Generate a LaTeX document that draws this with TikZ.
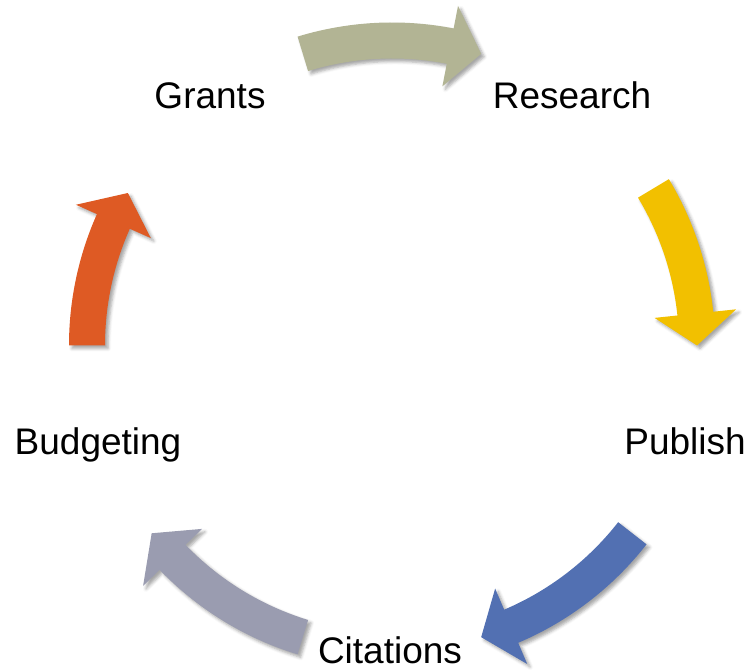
\documentclass[tikz,border=0pt]{standalone}
\usepackage{fontspec}
\setmainfont{Liberation Sans}
\usetikzlibrary{calc,shadows.blur}
\definecolor{grantgray}{HTML}{B2B494}
\definecolor{researchgold}{HTML}{F2C000}
\definecolor{publishblue}{HTML}{5270B2}
\definecolor{citelav}{HTML}{9A9CB0}
\definecolor{budgetorange}{HTML}{DE5A24}
% curved block arrow round (c): start angle, tip angle, colour
\newcommand{\cyclearrow}[3]{%
    \fill[#3, arrowshadow]
        (#1:287) arc[start angle=#1, end angle=#2+6, radius=287]
        -- (#2+6:264) -- (#2:305) -- (#2+6:346) -- (#2+6:323)
        arc[start angle=#2+6, end angle=#1, radius=323] -- cycle;}

\begin{document}
\begin{tikzpicture}[x=1pt, y=1pt,
    every node/.style={font=\fontsize{37}{44}\selectfont},
    arrowshadow/.style={blur shadow={shadow xshift=3, shadow yshift=-3,
        shadow blur radius=3, shadow opacity=35}},
    steplabel/.style={anchor=base, inner sep=0pt}]
    \useasboundingbox (0,0) rectangle (750,671);
    \coordinate (c) at (392,325.5);

    % Stage labels
    \node[steplabel] (grants) at (210,562) {Grants};
    \node[steplabel] (research) at (572,562) {Research};
    \node[steplabel] (publish) at (685,216) {Publish};
    \node[steplabel] (citations) at (390,7) {Citations};
    \node[steplabel] (budgeting) at (98,216) {Budgeting};

    % Cycle arrows
    \begin{scope}[shift={(c)}]
        \cyclearrow{107}{73}{grantgray}
        \cyclearrow{31}{0}{researchgold}
        \cyclearrow{-38}{-73}{publishblue}
        \cyclearrow{-107}{-142}{citelav}
        \cyclearrow{180}{150}{budgetorange}
    \end{scope}
\end{tikzpicture}
\end{document}
